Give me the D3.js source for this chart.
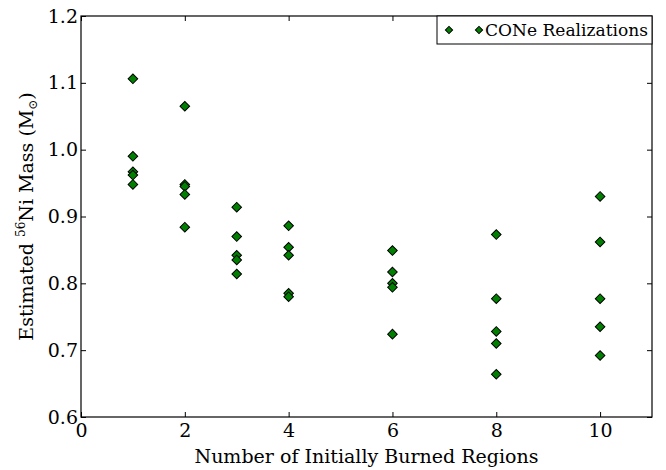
<!DOCTYPE html>
<html>
<head>
<meta charset="utf-8">
<script src="https://d3js.org/d3.v7.min.js"></script>
<style>
  body { margin: 0; background: #fff; }
  svg text { font-family: "DejaVu Serif", serif; fill: #000; }
</style>
</head>
<body>
<div id="chart"></div>
<script>
// Chart size
const width = 666;
const height = 470;
const margin = {top: 16, right: 14, bottom: 53, left: 81};

// Data: burned regions and the 56Ni mass estimates
const regions = [1, 1, 1, 1, 1,
                 2, 2, 2, 2, 2,
                 3, 3, 3, 3, 3,
                 4, 4, 4, 4, 4,
                 6, 6, 6, 6, 6,
                 8, 8, 8, 8, 8,
                 10, 10, 10, 10, 10];
const niMass = [1.106, 0.990, 0.967, 0.962, 0.948,
                1.065, 0.948, 0.945, 0.933, 0.884,
                0.914, 0.870, 0.842, 0.835, 0.814,
                0.886, 0.854, 0.842, 0.785, 0.780,
                0.849, 0.817, 0.800, 0.794, 0.724,
                0.873, 0.777, 0.728, 0.710, 0.664,
                0.930, 0.862, 0.777, 0.735, 0.692];
const xTicks = [0, 2, 4, 6, 8, 10];
const yTicks = [0.6, 0.7, 0.8, 0.9, 1.0, 1.1, 1.2];
const legendLabel = "CONe Realizations";

const points = regions.map(function (r, i) { return {x: r, y: niMass[i]}; });

const innerW = width - margin.left - margin.right;
const innerH = height - margin.top - margin.bottom;

let svg = d3.select("#chart").append("svg")
            .attr("width", width)
            .attr("height", height);

let g = svg.append("g")
           .attr("transform", "translate(" + margin.left + "," + margin.top + ")");

const x = d3.scaleLinear().domain([0, 11]).range([0, innerW]);
const y = d3.scaleLinear().domain([0.6, 1.2]).range([innerH, 0]);

// Axes with inward ticks on all four sides
function styleAxis(sel) {
    sel.attr("font-family", null);
    sel.select(".domain").remove();
    sel.selectAll("line").attr("stroke", "#000").attr("stroke-width", 1);
    sel.selectAll("text").style("font-size", "19px");
}

g.append("g")
 .attr("transform", "translate(0," + innerH + ")")
 .call(d3.axisBottom(x).tickValues(xTicks).tickSize(-5).tickPadding(7).tickFormat(d3.format("d")))
 .call(styleAxis);

g.append("g")
 .call(d3.axisTop(x).tickValues(xTicks).tickSize(-5).tickFormat(""))
 .call(styleAxis);

g.append("g")
 .call(d3.axisLeft(y).tickValues(yTicks).tickSize(-5).tickPadding(3).tickFormat(d3.format(".1f")))
 .call(styleAxis);

g.append("g")
 .attr("transform", "translate(" + innerW + ",0)")
 .call(d3.axisRight(y).tickValues(yTicks).tickSize(-5).tickFormat(""))
 .call(styleAxis);

// Frame
g.append("rect")
 .attr("width", innerW)
 .attr("height", innerH)
 .attr("fill", "none")
 .attr("stroke", "#000")
 .attr("stroke-width", 1.2);

// Diamond markers
const diamond = d3.symbol().type(d3.symbolSquare).size(46);

g.selectAll(".pt")
 .data(points)
 .enter()
 .append("path")
 .attr("class", "pt")
 .attr("d", diamond)
 .attr("transform", function (d) {
     return "translate(" + x(d.x) + "," + y(d.y) + ") rotate(45)";
 })
 .attr("fill", "#008000")
 .attr("stroke", "#000")
 .attr("stroke-width", 1);

// Legend box in the top right corner
const legendW = 215;
const legend = g.append("g")
                .attr("transform", "translate(" + (innerW - legendW) + ",0)");

legend.append("rect")
      .attr("width", legendW)
      .attr("height", 28)
      .attr("fill", "#fff")
      .attr("stroke", "#000")
      .attr("stroke-width", 1);

legend.selectAll(".lg")
      .data([12, 42])
      .enter()
      .append("path")
      .attr("class", "lg")
      .attr("d", d3.symbol().type(d3.symbolSquare).size(26))
      .attr("transform", function (d) { return "translate(" + d + ",14) rotate(45)"; })
      .attr("fill", "#008000")
      .attr("stroke", "#000")
      .attr("stroke-width", 1);

legend.append("text")
      .attr("x", 48)
      .attr("y", 20)
      .attr("textLength", 163)
      .attr("lengthAdjust", "spacingAndGlyphs")
      .style("font-size", "17px")
      .text(legendLabel);

// Axis titles
svg.append("text")
   .attr("x", margin.left + innerW / 2)
   .attr("y", height - 7)
   .attr("text-anchor", "middle")
   .attr("textLength", 344)
   .attr("lengthAdjust", "spacingAndGlyphs")
   .style("font-size", "19px")
   .text("Number of Initially Burned Regions");

let yTitle = svg.append("text")
   .attr("transform", "translate(33," + (margin.top + innerH / 2) + ") rotate(-90)")
   .attr("text-anchor", "middle")
   .style("font-size", "19px");
yTitle.append("tspan").text("Estimated ");
yTitle.append("tspan").attr("dy", -8).style("font-size", "12px").text("56");
yTitle.append("tspan").attr("dy", 8).text("Ni Mass (M");
yTitle.append("tspan").attr("dy", 4).style("font-size", "12px").text("\u2299");
yTitle.append("tspan").attr("dy", -4).text(")");
</script>
</body>
</html>
